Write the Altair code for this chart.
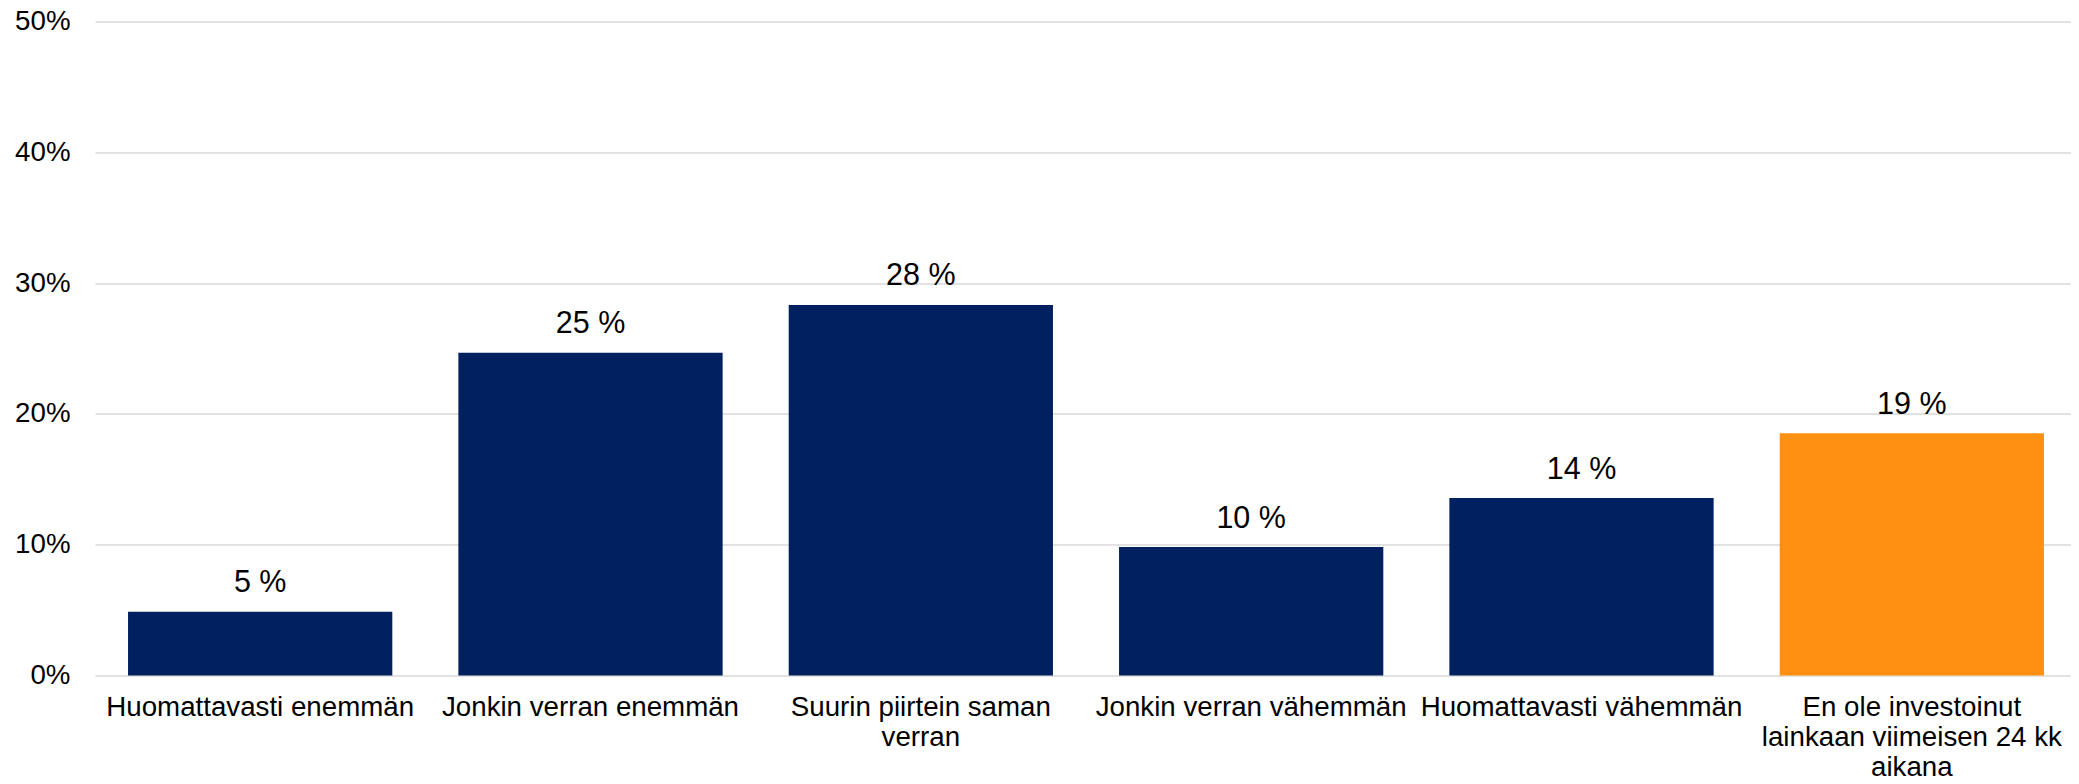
import altair as alt
import pandas as pd

# Data
label_lines = [
    ["Huomattavasti enemmän"],
    ["Jonkin verran enemmän"],
    ["Suurin piirtein saman", "verran"],
    ["Jonkin verran vähemmän"],
    ["Huomattavasti vähemmän"],
    ["En ole investoinut", "lainkaan viimeisen 24 kk", "aikana"],
]
categories = [" ".join(l) for l in label_lines]
values = [0.0488, 0.2468, 0.2833, 0.0982, 0.1357, 0.1852]
y_ticks = [0.0, 0.1, 0.2, 0.3, 0.4, 0.5]

NAVY = "#002060"
ORANGE = "#FF9012"
FONT = "Liberation Sans"

df = pd.DataFrame({"category": categories, "value": values})

# Build label expression splitting long categories into lines
expr = "datum.label"
for cat, lines in reversed(list(zip(categories, label_lines))):
    if len(lines) > 1:
        arr = "[" + ",".join("'" + s + "'" for s in lines) + "]"
        expr = f"datum.label == '{cat}' ? {arr} : ({expr})"

x_enc = alt.X(
    "category:N",
    sort=None,
    title=None,
    scale=alt.Scale(paddingInner=0.2, paddingOuter=0.1),
    axis=alt.Axis(
        labelAngle=0,
        labelFont=FONT,
        labelFontSize=27.7,
        labelColor="#000000",
        labelLimit=0,
        labelLineHeight=30,
        labelPadding=18,
        labelBaseline="top",
        ticks=False,
        tickSize=0,
        domain=False,
        labelExpr=expr,
    ),
)

y_enc = alt.Y(
    "value:Q",
    title=None,
    scale=alt.Scale(domain=[0, 0.5], nice=False),
    axis=alt.Axis(
        values=y_ticks,
        format=".0%",
        labelFont=FONT,
        labelFontSize=27.7,
        labelColor="#000000",
        labelPadding=25,
        ticks=False,
        tickSize=0,
        domain=False,
        grid=True,
        gridColor="#D9D9D9",
        gridWidth=1.5,
    ),
)

bars = alt.Chart(df).mark_bar().encode(
    x=x_enc,
    y=y_enc,
    color=alt.condition(
        alt.datum.category == categories[-1], alt.value(ORANGE), alt.value(NAVY)
    ),
)

text = alt.Chart(df).transform_calculate(
    lbl="format(datum.value * 100, '.0f') + ' %'"
).mark_text(
    font=FONT,
    fontSize=30.5,
    color="#000000",
    baseline="alphabetic",
    align="center",
    dy=-19.5,
).encode(
    x=alt.X("category:N", sort=None),
    y=alt.Y("value:Q"),
    text="lbl:N",
)

chart = (
    alt.layer(bars, text)
    .properties(
        width=1982,
        height=654,
        autosize=alt.AutoSizeParams(type="none"),
        padding={"left": 87, "top": 13.5, "right": -6, "bottom": 100},
    )
    .configure(background="white")
    .configure_view(stroke=None)
)

chart.save("out.html", embed_options={"renderer": "svg", "actions": False})
